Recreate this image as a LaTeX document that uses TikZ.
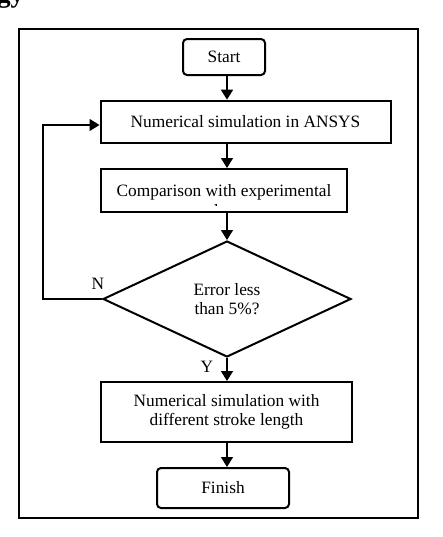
\documentclass[tikz,border=0pt]{standalone}
\usepackage{fontspec}
\setmainfont{Liberation Serif}
\usetikzlibrary{shapes.geometric,arrows.meta}

\begin{document}
\begin{tikzpicture}[x=0.75pt,y=-0.75pt,font=\fontsize{13}{14.5}\selectfont]
	\tikzstyle{every node}=[inner sep=0pt]
	\tikzstyle{box}=[draw,line width=1.5pt,align=center]
	\tikzstyle{term}=[box,rounded corners=3pt]
	\tikzstyle{arr}=[line width=1.1pt,-{Triangle[length=7.5pt,width=9pt]}]
	\useasboundingbox (0,0) rectangle (443,537);
	\begin{scope}
		\clip (0,0) rectangle (443,537);
		\node[font=\fontsize{20}{24}\selectfont\bfseries,anchor=base west] (head) at (-3,2) {gy};
	\end{scope}
	\draw[line width=1.5pt] (19,29) rectangle (418,518);
	
	\node[term,minimum width=61.5pt,minimum height=27pt] (start) at (224,57) {Start};
	\node[box,minimum width=217.5pt,minimum height=32pt] (sim) at (245.5,122) {Numerical simulation in ANSYS};
	\node[box,minimum width=184pt,minimum height=32.25pt] (comp) at (224,190.5) {};
	\begin{scope}
		\clip (comp.north west) rectangle ([yshift=5.5pt]comp.south east);
		\node[align=center] (comptext) at ([yshift=-7.5pt]comp.center) {Comparison with experimental\\data};
	\end{scope}
	\node[draw,diamond,line width=1.5pt,minimum width=186pt,minimum height=87pt,align=center] (err) at (227,299) {Error less\\than 5\%?};
	\node[box,minimum width=188.25pt,minimum height=45pt] (stroke) at (226.5,412) {Numerical simulation with\\different stroke length};
	\node[term,minimum width=99pt,minimum height=30pt] (finish) at (223,488) {Finish};
	\coordinate (back) at (43,125);
	
	\draw[arr] (start.south -| err.north) -- (sim.north -| err.north);
	\draw[arr] (sim.south -| err.north) -- (comp.north -| err.north);
	\draw[arr] (comp.south -| err.north) -- (err.north);
	\draw[arr] (err.south) -- (stroke.north -| err.south);
	\draw[arr] (stroke.south -| err.south) -- (finish.north -| err.south);
	\draw[arr] (err.west) -- (err.west -| back) -- (back) -- (back -| sim.west);
	
	\node (no) at (98,284) {N};
	\node (yes) at (207,367) {Y};
\end{tikzpicture}
\end{document}
